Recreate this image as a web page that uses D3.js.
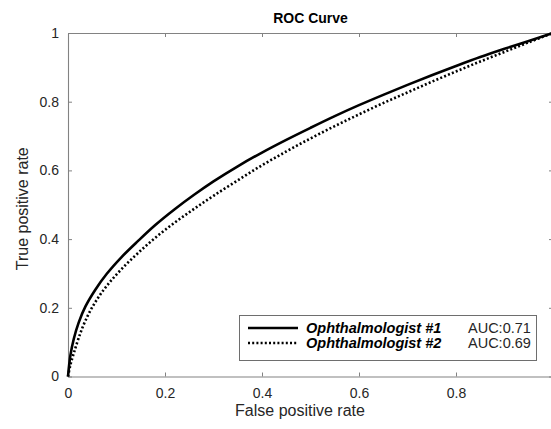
<!DOCTYPE html>
<html><head><meta charset="utf-8">
<script src="https://cdn.jsdelivr.net/npm/d3@7"></script>
<style>body{margin:0;background:#fff}svg{display:block}</style>
</head><body>
<svg id="c" width="551" height="429"></svg>
<script>
const fpr = [0,0.005,0.012,0.022,0.036,0.056,0.08,0.11,0.144,0.18,0.22,0.26,0.30,0.35,0.40,0.45,0.50,0.55,0.60,0.65,0.70,0.75,0.80,0.85,0.90,0.95,1.0];
const tpr1 = [0,0.062,0.11,0.157,0.204,0.252,0.299,0.347,0.394,0.441,0.487,0.529,0.568,0.612,0.652,0.689,0.724,0.758,0.79,0.82,0.849,0.877,0.904,0.93,0.954,0.977,1.0];
const tpr2 = [0,0.034,0.068,0.112,0.163,0.216,0.264,0.312,0.359,0.404,0.448,0.488,0.526,0.571,0.615,0.655,0.693,0.729,0.763,0.796,0.827,0.858,0.888,0.917,0.945,0.973,1.0];
const seriesNames = ["Ophthalmologist #1","Ophthalmologist #2"];
const aucLabels = ["AUC:0.71","AUC:0.69"];
const xTicks = [0,0.2,0.4,0.6,0.8,1];
const xTickLabels = ["0","0.2","0.4","0.6","0.8",""];
const yTicks = [0,0.2,0.4,0.6,0.8,1];
const yTickLabels = ["0","0.2","0.4","0.6","0.8","1"];

const svg = d3.select("#c");
const L=68,R=553,T=33,B=376.5;
const x = d3.scaleLinear().domain([0,1]).range([L,R]);
const y = d3.scaleLinear().domain([0,1]).range([B,T]);
const axisCol="#828282", txtCol="#262626";
const font="'Liberation Sans', Arial, Helvetica, sans-serif";
const tl=4;

function styleAxis(g, showLabels){
  g.select(".domain").attr("stroke",axisCol).attr("stroke-width",1.1);
  g.selectAll(".tick line").attr("stroke",axisCol).attr("stroke-width",1);
  g.selectAll(".tick text").attr("fill",txtCol).style("font-family",font).style("font-size","14px");
  if(!showLabels) g.selectAll(".tick text").remove();
  g.selectAll(".tick text").filter(function(){return this.textContent==="";}).remove();
}
// bottom
svg.append("g").attr("transform",`translate(0,${B})`)
  .call(d3.axisBottom(x).tickValues(xTicks).tickFormat((d,i)=>xTickLabels[i]).tickSizeInner(-tl).tickSizeOuter(0).tickPadding(12))
  .call(g=>styleAxis(g,true));
// top
svg.append("g").attr("transform",`translate(0,${T})`)
  .call(d3.axisTop(x).tickValues(xTicks).tickSizeInner(-tl).tickSizeOuter(0))
  .call(g=>styleAxis(g,false));
// left
svg.append("g").attr("transform",`translate(${L},0)`)
  .call(d3.axisLeft(y).tickValues(yTicks).tickFormat((d,i)=>yTickLabels[i]).tickSizeInner(-tl).tickSizeOuter(0).tickPadding(9))
  .call(g=>styleAxis(g,true));
// right
svg.append("g").attr("transform",`translate(${R},0)`)
  .call(d3.axisRight(y).tickValues(yTicks).tickSizeInner(-tl).tickSizeOuter(0))
  .call(g=>styleAxis(g,false));

const line = d3.line().x(d=>x(d[0])).y(d=>y(d[1])).curve(d3.curveCatmullRom.alpha(0.5));
const d1 = fpr.map((v,i)=>[v,tpr1[i]]);
const d2 = fpr.map((v,i)=>[v,tpr2[i]]);
svg.append("path").attr("d",line(d2)).attr("fill","none").attr("stroke","#000")
  .attr("stroke-width",2.6).attr("stroke-dasharray","2,2.2");
svg.append("path").attr("d",line(d1)).attr("fill","none").attr("stroke","#000")
  .attr("stroke-width",2.6);

// title
svg.append("text").attr("x",(L+R)/2).attr("y",23).attr("text-anchor","middle")
  .style("font-family",font).style("font-size","14px").style("font-weight","bold").attr("fill","#000")
  .text("ROC Curve");
// axis labels
svg.append("text").attr("x",300).attr("y",416).attr("text-anchor","middle")
  .style("font-family",font).style("font-size","16px").attr("fill",txtCol).text("False positive rate");
svg.append("text").attr("transform",`translate(28,${(T+B)/2+4}) rotate(-90)`).attr("text-anchor","middle")
  .style("font-family",font).style("font-size","16px").attr("fill",txtCol).text("True positive rate");

// legend
const lg = svg.append("g");
lg.append("rect").attr("x",239.5).attr("y",315.5).attr("width",297).attr("height",45)
  .attr("fill","#fff").attr("stroke","#6e6e6e").attr("stroke-width",1);
const rowsY=[328,343];
seriesNames.forEach((n,i)=>{
  lg.append("line").attr("x1",248).attr("x2",298).attr("y1",rowsY[i]).attr("y2",rowsY[i])
    .attr("stroke","#000").attr("stroke-width",2.6).attr("stroke-dasharray",i===1?"2,2.2":null);
  lg.append("text").attr("x",306).attr("y",rowsY[i]+5)
    .style("font-family",font).style("font-size","14.5px").style("font-weight","bold").style("font-style","italic")
    .attr("fill","#000").text(n);
  lg.append("text").attr("x",468).attr("y",rowsY[i]+5)
    .style("font-family",font).style("font-size","14.5px").attr("fill",txtCol).text(aucLabels[i]);
});
</script>
</body></html>
